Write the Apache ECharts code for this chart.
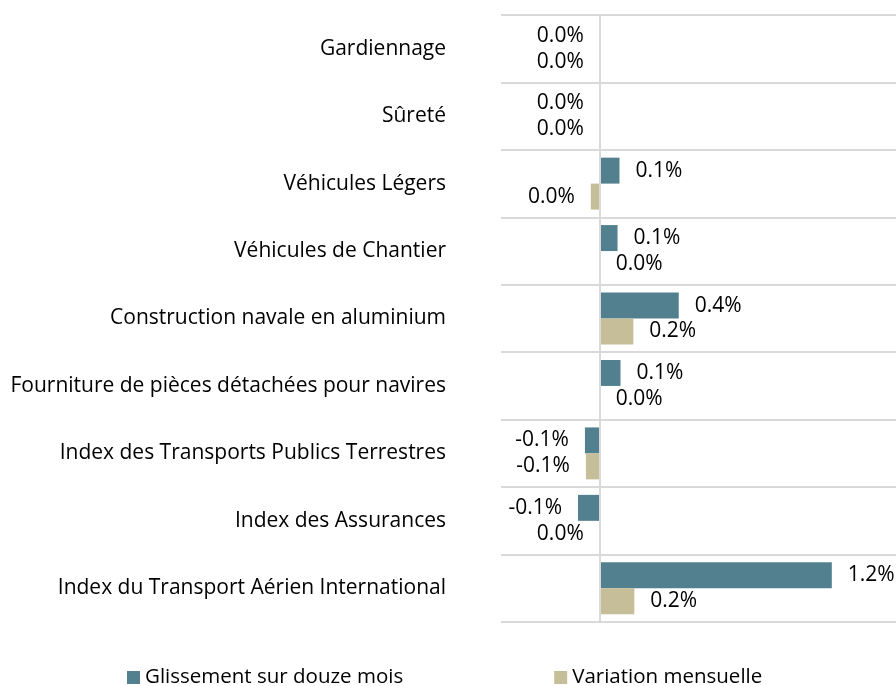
<!DOCTYPE html>
<html lang="fr" style="height: 100%">
<head>
  <meta charset="utf-8">
</head>
<body style="height: 100%; margin: 0">
  <div id="container" style="width: 896px; height: 686px"></div>
  <script type="text/javascript" src="https://fastly.jsdelivr.net/npm/echarts@6.0.0/dist/echarts.min.js"></script>
  <script type="text/javascript">
    // categories, top to bottom
    var categories = [
      'Gardiennage',
      'Sûreté',
      'Véhicules Légers',
      'Véhicules de Chantier',
      'Construction navale en aluminium',
      'Fourniture de pièces détachées pour navires',
      'Index des Transports Publics Terrestres',
      'Index des Assurances',
      'Index du Transport Aérien International'
    ];
    var seriesNames = ['Glissement sur douze mois', 'Variation mensuelle'];
    // values in %
    var glissement = [0, 0, 0.10, 0.09, 0.40, 0.105, -0.075, -0.11, 1.175];
    var variation = [0, 0, -0.045, 0, 0.17, 0, -0.07, 0, 0.175];

    var blue = '#52808f';
    var beige = '#c6be98';
    var font = 'Open Sans';

    function fmt(v) {
      if (Math.abs(v) < 0.05) v = 0;
      return v.toFixed(1) + '%';
    }

    // label goes on the side of the bar; a zero follows its partner, else left
    function side(v, other) {
      if (v > 0) return 'right';
      if (v < 0) return 'left';
      return other > 0 ? 'right' : 'left';
    }

    function buildData(vals, others) {
      return vals.map(function (v, i) {
        return { value: v, label: { position: side(v, others[i]) } };
      });
    }

    var dom = document.getElementById('container');
    var myChart = echarts.init(dom, null, { renderer: 'canvas' });

    var labelStyle = {
      show: true,
      distance: 16,
      fontFamily: font,
      fontSize: 21,
      color: '#000',
      formatter: function (p) { return fmt(p.value); }
    };

    var option = {
      animation: false,
      textStyle: { fontFamily: font },
      grid: { left: 501, right: 0, top: 15, bottom: 64 },
      legend: {
        left: 127,
        top: 667,
        padding: 0,
        itemGap: 151,
        itemWidth: 13,
        itemHeight: 13,
        icon: 'rect',
        textStyle: { fontFamily: font, fontSize: 20.5, color: '#000' },
        data: seriesNames
      },
      xAxis: {
        type: 'value',
        min: -0.5,
        max: 1.5,
        show: false,
        splitLine: { show: false }
      },
      yAxis: {
        type: 'category',
        inverse: true,
        data: categories,
        axisLine: { show: false },
        axisTick: { show: false },
        axisLabel: { margin: 55, fontFamily: font, fontSize: 21, color: '#000' },
        splitLine: { show: true, lineStyle: { color: '#d9d9d9', width: 2 } }
      },
      series: [
        {
          name: seriesNames[0],
          type: 'bar',
          barGap: '0%',
          barCategoryGap: '23%',
          itemStyle: { color: blue },
          label: labelStyle,
          data: buildData(glissement, variation),
          markLine: {
            silent: true,
            symbol: 'none',
            label: { show: false },
            lineStyle: { color: '#d9d9d9', width: 2, type: 'solid' },
            data: [{ xAxis: 0 }]
          }
        },
        {
          name: seriesNames[1],
          type: 'bar',
          barGap: '0%',
          barCategoryGap: '23%',
          itemStyle: { color: beige },
          label: labelStyle,
          data: buildData(variation, glissement)
        }
      ]
    };

    myChart.setOption(option);
    window.addEventListener('resize', myChart.resize);
  </script>
</body>
</html>
